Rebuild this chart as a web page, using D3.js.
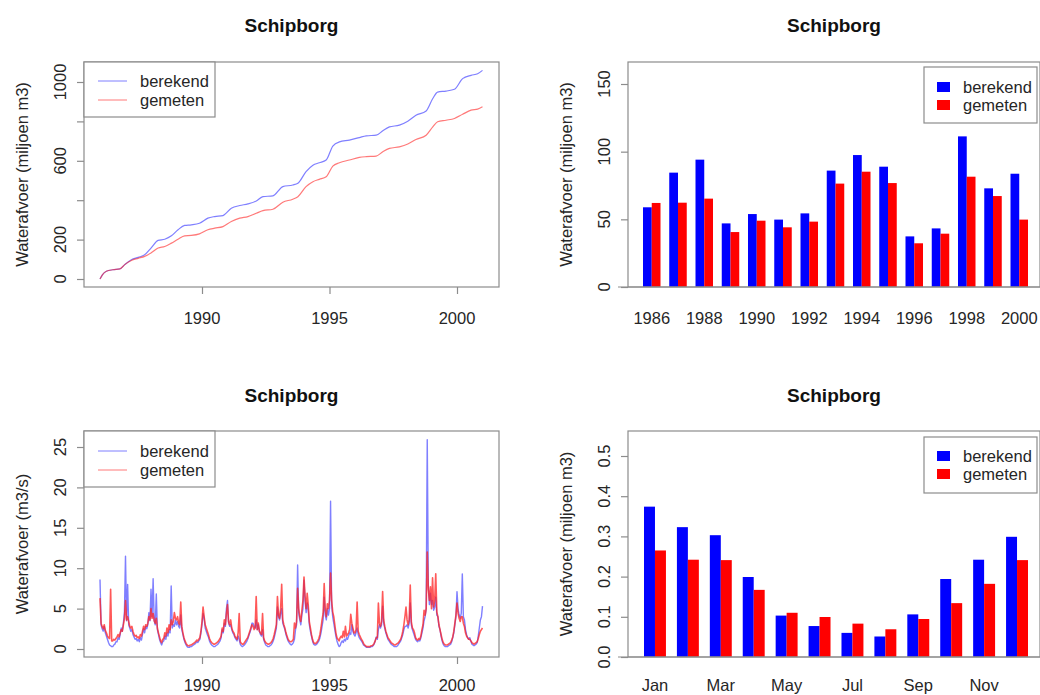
<!DOCTYPE html>
<html>
<head>
<meta charset="utf-8">
<script src="https://cdn.jsdelivr.net/npm/d3@7"></script>
<style>
  body { margin: 0; background: #fff; }
  svg { display: block; font-family: "Liberation Sans", Arial, sans-serif; }
</style>
</head>
<body>
<svg id="chart" width="1040" height="695"></svg>
<script>
// ---- data -------------------------------------------------------------
const stationName = "Schipborg";
const seriesNames = ["berekend", "gemeten"];

// cumulative discharge (miljoen m3)
const cumTime = [1986.0, 1986.1, 1986.25, 1986.5, 1986.78, 1986.97, 1987.23, 1987.5, 1987.75, 1988.0,
  1988.28, 1988.54, 1988.8, 1989.06, 1989.32, 1989.58, 1989.9, 1990.23, 1990.5, 1990.82,
  1991.15, 1991.48, 1991.8, 1992.13, 1992.39, 1992.78, 1993.17, 1993.56, 1993.76, 1994.08,
  1994.35, 1994.6, 1994.87, 1995.13, 1995.39, 1995.78, 1996.17, 1996.44, 1996.83, 1997.09,
  1997.35, 1997.74, 1998.07, 1998.39, 1998.79, 1999.05, 1999.24, 1999.57, 1999.9, 2000.22,
  2000.55, 2000.81, 2001.0];
const cumBerekend = [0, 22, 39, 47, 51, 73, 98, 110, 123, 157,
  196, 202, 219, 250, 272, 275, 283, 309, 317, 322,
  359, 373, 381, 396, 418, 422, 469, 477, 486, 545,
  578, 590, 604, 675, 696, 705, 718, 727, 730, 752,
  772, 781, 801, 831, 853, 916, 949, 954, 963, 1017,
  1034, 1042, 1059];
const cumGemeten = [0, 22, 39, 47, 51, 73, 94, 105, 115, 132,
  157, 165, 182, 202, 219, 221, 229, 250, 258, 266,
  292, 309, 317, 334, 347, 354, 390, 405, 418, 469,
  494, 506, 519, 573, 590, 604, 617, 621, 624, 646,
  663, 671, 685, 708, 730, 772, 798, 806, 815, 836,
  857, 862, 874];
const cumTicks = [0, 200, 400, 600, 800, 1000];
const cumTickLabels = ["0", "200", "", "600", "", "1000"];

// discharge (m3/s), half-monthly readings from 1986-01 to 2001-01
const flowStart = 1986;
const flowPerYear = 24;
const flowBerekend = [
  8.6,3.0,2.5,2.2,2.8,2.0,1.6,1.2,0.8,0.5,0.4,0.3,0.3,0.5,0.6,0.9,0.9,1.4,1.2,1.8,2.6,2.2,3.2,4.5,
  11.5,3.5,8.0,3.0,2.6,2.2,2.4,1.8,1.5,1.2,1.3,1.0,1.2,0.9,1.4,1.1,1.8,2.5,2.0,2.8,2.5,3.0,4.5,3.5,
  7.4,4.0,8.7,3.5,3.0,6.8,2.4,1.8,1.2,0.8,0.5,0.9,1.0,1.6,1.2,2.0,1.6,2.4,2.0,7.8,2.6,3.0,2.8,3.6,
  3.0,3.4,2.8,2.6,4.2,2.4,1.8,1.2,0.8,0.5,0.3,0.2,0.2,0.3,0.3,0.4,0.5,0.6,0.7,0.9,0.8,1.0,1.2,2.0,
  3.0,4.4,3.8,2.6,2.2,1.8,1.5,1.0,0.7,0.5,0.4,0.3,0.3,0.4,0.5,0.6,0.8,1.0,1.4,2.4,2.0,3.2,2.8,5.0,
  6.0,3.2,2.8,3.0,2.4,2.0,1.8,1.4,1.2,1.0,1.6,1.2,0.6,0.4,0.3,0.4,0.5,0.7,0.9,1.2,1.6,2.0,2.4,3.2,
  3.2,2.8,2.6,3.6,2.4,3.0,2.2,1.8,1.6,2.4,1.2,0.8,0.5,0.4,0.3,0.3,0.4,0.5,0.7,1.0,1.4,2.0,2.6,5.2,
  4.0,3.6,4.4,5.0,3.2,2.8,2.4,1.8,1.4,1.0,0.8,0.6,0.5,0.6,0.8,1.2,2.4,3.0,10.4,4.5,3.6,3.0,4.2,5.0,
  8.5,6.0,4.5,5.7,4.8,3.0,2.2,1.6,1.0,0.6,0.5,0.5,0.6,0.8,1.0,1.4,2.0,2.8,3.6,6.4,4.2,3.6,5.0,4.2,
  5.0,18.3,5.5,4.0,3.2,2.4,1.6,1.0,0.6,0.3,0.4,0.8,1.0,0.8,1.2,1.0,1.4,1.2,1.6,2.0,1.8,3.0,2.2,1.8,
  1.6,2.0,2.6,1.8,1.4,1.2,1.0,0.8,0.5,0.4,0.3,0.2,0.2,0.2,0.2,0.3,0.3,0.4,0.6,1.0,1.5,1.2,2.4,3.0,
  2.6,3.0,5.3,3.2,2.6,2.0,1.6,1.2,1.0,0.8,0.6,0.5,0.4,0.3,0.3,0.3,0.4,0.6,0.8,1.0,1.4,1.8,2.4,2.8,
  2.8,3.0,2.6,3.2,5.7,3.0,2.4,2.0,1.6,1.2,1.0,0.9,1.1,1.0,1.4,2.0,2.6,3.5,4.0,5.0,25.9,8.0,5.5,6.9,
  5.5,6.0,4.8,5.2,6.4,4.2,4.0,2.8,2.4,1.6,1.0,0.6,0.4,0.3,0.3,0.3,0.4,0.5,0.6,0.9,1.4,2.0,3.0,4.0,
  7.1,5.0,4.2,3.8,4.4,9.3,4.0,3.6,2.4,1.8,1.4,1.2,1.4,1.0,0.6,0.5,0.4,0.5,0.6,0.8,1.6,2.6,3.6,4.0,
  5.3];
const flowGemeten = [
  6.3,3.2,2.8,2.5,3.0,2.3,2.0,1.6,1.4,1.3,7.4,1.0,1.0,1.2,1.1,1.3,1.5,1.8,1.5,2.0,2.4,2.2,3.0,3.8,
  6.0,3.6,4.0,3.4,2.8,2.6,2.8,2.2,1.8,1.6,1.7,1.4,1.5,1.3,1.8,1.6,2.2,2.8,2.4,3.0,2.8,3.2,4.0,3.6,
  5.0,3.8,4.4,3.5,3.2,3.8,2.6,2.0,1.5,1.0,0.8,1.2,1.3,2.0,1.6,2.6,2.0,3.0,2.4,3.6,3.0,3.4,4.5,3.8,
  3.6,4.0,3.2,3.0,5.8,2.8,2.0,1.4,1.0,0.7,0.5,0.4,0.4,0.5,0.5,0.6,0.7,0.8,0.9,1.1,1.0,1.2,1.4,2.2,
  3.4,5.2,4.0,3.0,2.6,2.2,1.8,1.3,1.0,0.8,0.7,0.6,0.6,0.7,0.8,0.9,1.1,1.3,1.6,2.6,2.2,3.6,3.0,4.4,
  5.5,3.4,3.0,3.6,2.6,2.2,2.0,1.6,1.4,1.2,2.0,4.4,0.9,0.7,0.6,0.6,0.8,1.0,1.2,1.4,1.8,2.2,2.6,3.0,
  2.8,2.4,2.6,6.5,2.4,3.2,2.2,2.0,1.8,4.4,1.4,1.0,0.8,0.7,0.6,0.6,0.7,0.8,1.0,1.3,1.8,2.4,3.0,6.5,
  4.2,3.8,5.0,8.0,3.6,3.0,2.6,2.0,1.6,1.2,1.0,0.9,0.9,1.0,1.2,3.2,2.6,3.4,7.5,5.0,4.0,3.4,4.8,6.0,
  8.9,6.5,5.0,6.9,5.4,3.4,2.6,1.8,1.2,0.8,0.7,0.7,0.8,1.0,1.3,1.8,2.6,3.6,4.4,8.1,4.8,4.0,5.6,5.0,
  6.0,9.4,6.1,4.6,4.0,3.0,2.0,1.4,1.2,1.0,1.4,1.6,1.4,2.2,1.5,2.8,1.6,1.8,2.0,2.4,4.3,3.2,2.6,2.0,
  2.0,2.4,5.8,2.2,1.8,1.5,1.2,1.0,0.7,0.5,0.4,0.3,0.3,0.3,0.3,0.4,0.4,0.5,0.7,1.0,1.4,1.4,5.7,3.2,
  2.8,3.4,7.1,3.6,2.8,2.2,1.8,1.4,1.2,1.0,0.8,0.7,0.6,0.5,0.5,0.6,0.7,0.8,1.0,1.2,1.6,2.2,3.0,4.0,
  5.2,3.6,3.0,3.6,7.9,3.4,2.6,2.4,2.0,1.4,1.2,1.1,1.3,1.2,1.6,2.4,3.0,4.8,4.2,5.0,12.0,7.4,6.0,7.7,
  5.0,8.8,5.2,6.0,9.3,4.6,4.0,3.0,2.4,1.8,1.2,0.8,0.6,0.5,0.5,0.5,0.6,0.7,0.8,1.1,1.5,2.2,3.2,4.2,
  5.7,4.4,3.8,3.4,4.0,4.0,3.2,2.8,2.0,1.6,1.4,1.2,1.2,1.0,0.8,0.7,0.6,0.7,0.8,0.9,1.3,1.8,2.2,2.4,
  2.6];
const flowTicks = [0, 5, 10, 15, 20, 25];
const yearTicks = [1990, 1995, 2000];

// annual totals (miljoen m3)
const years = [1986, 1987, 1988, 1989, 1990, 1991, 1992, 1993, 1994, 1995, 1996, 1997, 1998, 1999, 2000];
const annualBerekend = [58.9, 84.5, 94.1, 47.0, 53.9, 49.8, 54.4, 86.0, 97.5, 88.9, 37.4, 43.3, 111.3, 72.9, 83.7];
const annualGemeten = [62.1, 62.3, 65.3, 40.6, 49.0, 44.1, 48.3, 76.4, 85.2, 76.8, 32.3, 39.4, 81.5, 67.2, 49.8];
const annualTicks = [0, 50, 100, 150];

// mean daily volume per month (miljoen m3)
const months = ["Jan", "Feb", "Mar", "Apr", "May", "Jun", "Jul", "Aug", "Sep", "Oct", "Nov", "Dec"];
const monthBerekend = [0.374, 0.323, 0.303, 0.199, 0.103, 0.077, 0.060, 0.051, 0.106, 0.194, 0.242, 0.299];
const monthGemeten = [0.265, 0.242, 0.241, 0.167, 0.110, 0.0995, 0.083, 0.069, 0.0945, 0.134, 0.182, 0.241];
const monthTicks = [0, 0.1, 0.2, 0.3, 0.4, 0.5];

// ---- drawing ----------------------------------------------------------
const svg = d3.select("#chart");
const boxColor = "#8c8c8c";
const textColor = "#262626";
const fontSize = 16.5;
const barColors = ["#0000ff", "#ff0000"];
const lineColors = ["#2a2aff", "#ff2020"];

function panel(box, title, yTitle, titleY) {
  const g = svg.append("g");
  g.append("text")
    .attr("x", (box.x0 + box.x1) / 2).attr("y", titleY)
    .attr("text-anchor", "middle")
    .attr("font-size", 19).attr("font-weight", "bold").attr("fill", "#111")
    .text(title);
  g.append("text")
    .attr("transform", `translate(${box.x0 - 56},${(box.y0 + box.y1) / 2}) rotate(-90)`)
    .attr("text-anchor", "middle")
    .attr("font-size", fontSize).attr("fill", textColor)
    .text(yTitle);
  return g;
}

function frame(g, box) {
  g.append("rect")
    .attr("x", box.x0).attr("y", box.y0)
    .attr("width", box.x1 - box.x0).attr("height", box.y1 - box.y0)
    .attr("fill", "none").attr("stroke", boxColor).attr("stroke-width", 1.2);
}

function yAxis(g, box, y, ticks, labels) {
  const ax = g.append("g")
    .attr("transform", `translate(${box.x0},0)`)
    .call(d3.axisLeft(y).tickValues(ticks).tickSize(7).tickFormat(""));
  ax.select(".domain").remove();
  ax.selectAll("line").attr("stroke", boxColor).attr("stroke-width", 1.2);
  g.selectAll(null)
    .data(ticks.map((t, i) => ({ t, label: labels[i] })).filter(d => d.label !== ""))
    .join("text")
    .attr("transform", d => `translate(${box.x0 - 18},${y(d.t)}) rotate(-90)`)
    .attr("text-anchor", "middle")
    .attr("font-size", fontSize).attr("fill", textColor)
    .text(d => d.label);
}

function xTimeAxis(g, box, x, ticks, labelDy) {
  const ax = g.append("g")
    .attr("transform", `translate(0,${box.y1})`)
    .call(d3.axisBottom(x).tickValues(ticks).tickSize(7).tickFormat(""));
  ax.select(".domain").remove();
  ax.selectAll("line").attr("stroke", boxColor).attr("stroke-width", 1.2);
  g.selectAll(null).data(ticks).join("text")
    .attr("x", d => x(d)).attr("y", box.y1 + labelDy)
    .attr("text-anchor", "middle")
    .attr("font-size", fontSize).attr("fill", textColor)
    .text(d => d);
}

function lineLegend(g, box, rows, height) {
  g.append("rect")
    .attr("x", box.x0).attr("y", box.y0)
    .attr("width", 131).attr("height", height)
    .attr("fill", "#fff").attr("stroke", boxColor).attr("stroke-width", 1.2);
  seriesNames.forEach((name, i) => {
    const yy = rows[i];
    g.append("line")
      .attr("x1", box.x0 + 14).attr("x2", box.x0 + 43)
      .attr("y1", yy).attr("y2", yy)
      .attr("stroke", lineColors[i]).attr("stroke-opacity", 0.6).attr("stroke-width", 1);
    g.append("text")
      .attr("x", box.x0 + 56).attr("y", yy + 6)
      .attr("font-size", fontSize).attr("fill", textColor)
      .text(name);
  });
}

function barLegend(g, x0, y0, rows) {
  g.append("rect")
    .attr("x", x0).attr("y", y0)
    .attr("width", 113).attr("height", 56)
    .attr("fill", "#fff").attr("stroke", boxColor).attr("stroke-width", 1.2);
  seriesNames.forEach((name, i) => {
    const yy = rows[i];
    g.append("rect")
      .attr("x", x0 + 13).attr("y", yy - 5)
      .attr("width", 13).attr("height", 10)
      .attr("fill", barColors[i]);
    g.append("text")
      .attr("x", x0 + 39).attr("y", yy + 6)
      .attr("font-size", fontSize).attr("fill", textColor)
      .text(name);
  });
}

// panel boxes
const leftTop = { x0: 84, x1: 499, y0: 62, y1: 287 };
const leftBot = { x0: 84, x1: 499, y0: 431, y1: 657 };
const rightTop = { x0: 628, x1: 1040, y0: 62, y1: 287 };
const rightBot = { x0: 628, x1: 1040, y0: 431, y1: 657 };

// shared time scale for the two line panels
const xTime = d3.scaleLinear().domain([1990, 2000]).range([202, 457]);

// --- cumulative discharge
{
  const box = leftTop;
  const g = panel(box, stationName, "Waterafvoer (miljoen m3)", 32);
  const y = d3.scaleLinear().domain([0, 1000]).range([279, 82]);
  const line = d3.line().x(d => xTime(d[0])).y(d => y(d[1])).curve(d3.curveMonotoneX);
  [cumBerekend, cumGemeten].forEach((vals, i) => {
    g.append("path")
      .datum(cumTime.map((t, k) => [t, vals[k]]))
      .attr("d", line)
      .attr("fill", "none")
      .attr("stroke", lineColors[i]).attr("stroke-opacity", 0.6).attr("stroke-width", 1.2);
  });
  frame(g, box);
  yAxis(g, box, y, cumTicks, cumTickLabels);
  xTimeAxis(g, box, xTime, yearTicks, 37);
  lineLegend(g, box, [81, 100], 55);
}

// --- discharge time series
{
  const box = leftBot;
  const g = panel(box, stationName, "Waterafvoer (m3/s)", 402);
  const y = d3.scaleLinear().domain([0, 25]).range([649, 447]);
  const line = d3.line().x(d => xTime(d[0])).y(d => y(d[1]));
  const alpha = [0.6, 0.75];
  const width = [1.4, 1.6];
  [flowBerekend, flowGemeten].forEach((vals, i) => {
    g.append("path")
      .datum(vals.map((v, k) => [flowStart + k / flowPerYear, v]))
      .attr("d", line)
      .attr("fill", "none")
      .attr("stroke", lineColors[i]).attr("stroke-opacity", alpha[i])
      .attr("stroke-width", width[i]).attr("stroke-linejoin", "round");
  });
  frame(g, box);
  yAxis(g, box, y, flowTicks, flowTicks.map(String));
  xTimeAxis(g, box, xTime, yearTicks, 34);
  lineLegend(g, box, [451, 470], 56);
}

// grouped bar panel
function barPanel(box, titleY, cats, seriesA, seriesB, y, ticks, tickFmt, unitRange, legendY, legendRows, labelDy) {
  const g = panel(box, stationName, "Waterafvoer (miljoen m3)", titleY);
  const u = d3.scaleLinear().domain([1, cats.length * 3]).range(unitRange);
  const rows = cats.map((c, i) => ({ c, i, vals: [seriesA[i], seriesB[i]] }));
  rows.forEach(r => {
    r.vals.forEach((v, s) => {
      const a = 1 + 3 * r.i + s;
      g.append("rect")
        .attr("x", u(a)).attr("width", u(a + 1) - u(a))
        .attr("y", y(v)).attr("height", y(0) - y(v))
        .attr("fill", barColors[s]);
    });
  });
  frame(g, box);
  g.append("line")
    .attr("x1", box.x0 - 10).attr("x2", box.x1)
    .attr("y1", y(0)).attr("y2", y(0))
    .attr("stroke", boxColor).attr("stroke-width", 1.2);
  yAxis(g, box, y, ticks, ticks.map(tickFmt));
  // every other category is labelled
  g.selectAll(null).data(rows.filter(r => r.i % 2 === 0)).join("text")
    .attr("x", r => u(2 + 3 * r.i)).attr("y", box.y1 + labelDy)
    .attr("text-anchor", "middle")
    .attr("font-size", fontSize).attr("fill", textColor)
    .text(r => r.c);
  barLegend(g, 924, legendY, legendRows);
}

// --- annual totals
barPanel(rightTop, 32, years, annualBerekend, annualGemeten,
  d3.scaleLinear().domain([0, 150]).range([287, 84]),
  annualTicks, d => String(d), [643, 1028], 67, [87, 105], 37);

// --- monthly means
barPanel(rightBot, 402, months, monthBerekend, monthGemeten,
  d3.scaleLinear().domain([0, 0.5]).range([657, 456]),
  monthTicks, d => d.toFixed(1), [644, 1028], 437, [456, 474], 34);
</script>
</body>
</html>
